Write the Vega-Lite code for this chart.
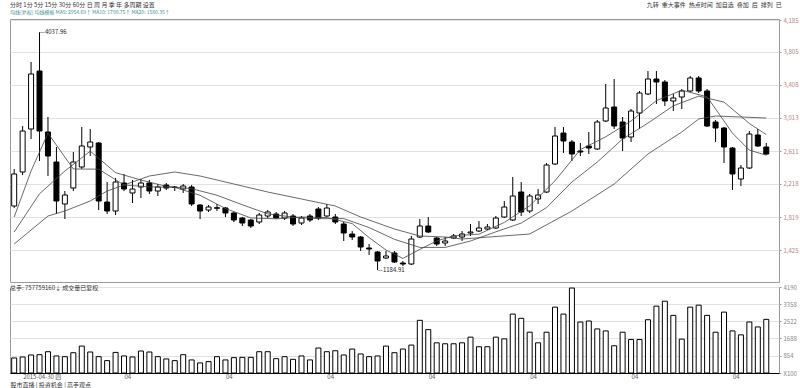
{
"$schema": "https://vega.github.io/schema/vega-lite/v6.json",
"padding": {"left": 9, "top": 1, "right": 0, "bottom": 0},
"background": "white",
"config": {"font": "Noto Sans CJK SC", "view": {"stroke": "#999", "strokeWidth": 1}, "axis": {"labelOverlap": false}, "axisY": {"labelOverlap": false}},
"title": {"text": "分时  1分  5分  15分  30分  60分  日  周  月  季  年  多周期  设置　　　　　　　　　　　　　　　　　　　　　　　　　　　　　　　　　　　　　　　　　　　　　　　　　　　　　　　　　　　　　　　　　　　　　　　　　　　　　　　　　　九转\u2002重大事件\u2002热点时间\u2002加自选\u2002叠加\u2002后\u2002排列\u2002已", "subtitle": "均线(复权)  均线模板  MA5: 2954.69↑  MA10: 1790.75↑  MA20: 1580.35↑", "anchor": "start", "frame": "group", "fontSize": 6, "fontWeight": "normal", "color": "#333", "subtitleFontSize": 5, "subtitleColor": "#3a8f95", "subtitlePadding": 2, "offset": 2},
"spacing": 0,
"datasets": {
"k": [
{"m":"2015-03","o":1953,"h":2397,"l":1930,"c":2337,"vol":735},
{"m":"2015-04","o":2361,"h":2913,"l":2325,"c":2853,"vol":783},
{"m":"2015-05","o":2877,"h":3681,"l":2757,"c":3537,"vol":880},
{"m":"2015-06","o":3573,"h":4037.96,"l":2493,"c":2853,"vol":895},
{"m":"2015-07","o":2841,"h":3021,"l":2313,"c":2553,"vol":1040},
{"m":"2015-08","o":2481,"h":2661,"l":1857,"c":2013,"vol":832},
{"m":"2015-09","o":1977,"h":2133,"l":1797,"c":2085,"vol":798},
{"m":"2015-10","o":2169,"h":2601,"l":2133,"c":2481,"vol":991},
{"m":"2015-11","o":2421,"h":2901,"l":2397,"c":2673,"vol":1315},
{"m":"2015-12","o":2661,"h":2877,"l":2553,"c":2721,"vol":1025},
{"m":"2016-01","o":2709,"h":2720,"l":1905,"c":2013,"vol":798},
{"m":"2016-02","o":2001,"h":2241,"l":1857,"c":1893,"vol":605},
{"m":"2016-03","o":1893,"h":2289,"l":1845,"c":2241,"vol":1006},
{"m":"2016-04","o":2229,"h":2337,"l":2133,"c":2157,"vol":832},
{"m":"2016-05","o":2109,"h":2265,"l":1989,"c":2157,"vol":783},
{"m":"2016-06","o":2181,"h":2277,"l":2049,"c":2229,"vol":1074},
{"m":"2016-07","o":2229,"h":2265,"l":2097,"c":2133,"vol":1025},
{"m":"2016-08","o":2133,"h":2217,"l":2073,"c":2181,"vol":798},
{"m":"2016-09","o":2205,"h":2229,"l":2145,"c":2169,"vol":687},
{"m":"2016-10","o":2181,"h":2193,"l":2133,"c":2175,"vol":605},
{"m":"2016-11","o":2157,"h":2217,"l":2109,"c":2193,"vol":895},
{"m":"2016-12","o":2181,"h":2205,"l":1953,"c":1977,"vol":638},
{"m":"2017-01","o":1965,"h":1977,"l":1797,"c":1893,"vol":493},
{"m":"2017-02","o":1905,"h":1965,"l":1881,"c":1941,"vol":556},
{"m":"2017-03","o":1925,"h":1977,"l":1893,"c":1933,"vol":798},
{"m":"2017-04","o":1929,"h":1941,"l":1821,"c":1869,"vol":638},
{"m":"2017-05","o":1869,"h":1881,"l":1761,"c":1785,"vol":750},
{"m":"2017-06","o":1809,"h":1821,"l":1713,"c":1749,"vol":764},
{"m":"2017-07","o":1785,"h":1797,"l":1689,"c":1713,"vol":764},
{"m":"2017-08","o":1761,"h":1869,"l":1737,"c":1845,"vol":1040},
{"m":"2017-09","o":1833,"h":1905,"l":1809,"c":1881,"vol":1040},
{"m":"2017-10","o":1857,"h":1881,"l":1797,"c":1809,"vol":701},
{"m":"2017-11","o":1809,"h":1893,"l":1785,"c":1869,"vol":798},
{"m":"2017-12","o":1833,"h":1857,"l":1713,"c":1737,"vol":667},
{"m":"2018-01","o":1749,"h":1833,"l":1725,"c":1809,"vol":832},
{"m":"2018-02","o":1833,"h":1857,"l":1761,"c":1785,"vol":638},
{"m":"2018-03","o":1917,"h":1941,"l":1785,"c":1809,"vol":1219},
{"m":"2018-04","o":1833,"h":1977,"l":1821,"c":1929,"vol":1040},
{"m":"2018-05","o":1821,"h":1857,"l":1737,"c":1761,"vol":1088},
{"m":"2018-06","o":1737,"h":1761,"l":1533,"c":1629,"vol":880},
{"m":"2018-07","o":1617,"h":1653,"l":1545,"c":1581,"vol":1170},
{"m":"2018-08","o":1581,"h":1593,"l":1413,"c":1461,"vol":929},
{"m":"2018-09","o":1449,"h":1497,"l":1365,"c":1437,"vol":798},
{"m":"2018-10","o":1401,"h":1413,"l":1184.91,"c":1293,"vol":832},
{"m":"2018-11","o":1329,"h":1413,"l":1317,"c":1353,"vol":1315},
{"m":"2018-12","o":1389,"h":1413,"l":1269,"c":1281,"vol":991},
{"m":"2019-01","o":1269,"h":1293,"l":1233,"c":1257,"vol":1170},
{"m":"2019-02","o":1257,"h":1593,"l":1245,"c":1557,"vol":1364},
{"m":"2019-03","o":1581,"h":1797,"l":1569,"c":1713,"vol":2573},
{"m":"2019-04","o":1713,"h":1821,"l":1629,"c":1641,"vol":2118},
{"m":"2019-05","o":1569,"h":1581,"l":1473,"c":1497,"vol":1475},
{"m":"2019-06","o":1509,"h":1581,"l":1473,"c":1533,"vol":1427},
{"m":"2019-07","o":1569,"h":1617,"l":1557,"c":1593,"vol":1427},
{"m":"2019-08","o":1581,"h":1653,"l":1533,"c":1617,"vol":1475},
{"m":"2019-09","o":1629,"h":1737,"l":1593,"c":1641,"vol":1751},
{"m":"2019-10","o":1653,"h":1773,"l":1641,"c":1689,"vol":1282},
{"m":"2019-11","o":1677,"h":1737,"l":1665,"c":1701,"vol":1282},
{"m":"2019-12","o":1689,"h":1833,"l":1677,"c":1809,"vol":1751},
{"m":"2020-01","o":1821,"h":2013,"l":1809,"c":1941,"vol":1668},
{"m":"2020-02","o":1785,"h":2301,"l":1773,"c":2073,"vol":2877},
{"m":"2020-03","o":2121,"h":2241,"l":1833,"c":1881,"vol":2669},
{"m":"2020-04","o":1893,"h":2097,"l":1869,"c":2073,"vol":1992},
{"m":"2020-05","o":2037,"h":2157,"l":1977,"c":2085,"vol":1475},
{"m":"2020-06","o":2121,"h":2469,"l":2109,"c":2445,"vol":1992},
{"m":"2020-07","o":2457,"h":2901,"l":2445,"c":2793,"vol":3216},
{"m":"2020-08","o":2829,"h":2901,"l":2589,"c":2733,"vol":2877},
{"m":"2020-09","o":2721,"h":2745,"l":2493,"c":2577,"vol":4149},
{"m":"2020-10","o":2613,"h":2709,"l":2553,"c":2601,"vol":2491},
{"m":"2020-11","o":2673,"h":2841,"l":2577,"c":2649,"vol":2539},
{"m":"2020-12","o":2637,"h":2985,"l":2625,"c":2961,"vol":2152},
{"m":"2021-01","o":2973,"h":3417,"l":2961,"c":3129,"vol":2055},
{"m":"2021-02","o":3141,"h":3477,"l":2877,"c":2913,"vol":1330},
{"m":"2021-03","o":2961,"h":3021,"l":2613,"c":2769,"vol":1992},
{"m":"2021-04","o":2781,"h":3117,"l":2721,"c":3093,"vol":1635},
{"m":"2021-05","o":3069,"h":3333,"l":2877,"c":3309,"vol":1635},
{"m":"2021-06","o":3297,"h":3573,"l":3285,"c":3477,"vol":2602},
{"m":"2021-07","o":3477,"h":3573,"l":3177,"c":3441,"vol":3264},
{"m":"2021-08","o":3441,"h":3465,"l":3153,"c":3213,"vol":3506},
{"m":"2021-09","o":3213,"h":3297,"l":3093,"c":3249,"vol":2815},
{"m":"2021-10","o":3261,"h":3357,"l":3117,"c":3333,"vol":1654},
{"m":"2021-11","o":3333,"h":3513,"l":3321,"c":3489,"vol":3216},
{"m":"2021-12","o":3489,"h":3513,"l":3309,"c":3333,"vol":3313},
{"m":"2022-01","o":3333,"h":3357,"l":2901,"c":2913,"vol":2815},
{"m":"2022-02","o":2961,"h":2985,"l":2721,"c":2889,"vol":1992},
{"m":"2022-03","o":2889,"h":2901,"l":2469,"c":2661,"vol":2974},
{"m":"2022-04","o":2649,"h":2661,"l":2145,"c":2337,"vol":2055},
{"m":"2022-05","o":2277,"h":2445,"l":2193,"c":2409,"vol":1862},
{"m":"2022-06","o":2409,"h":2853,"l":2397,"c":2817,"vol":2491},
{"m":"2022-07","o":2805,"h":2877,"l":2661,"c":2673,"vol":2249},
{"m":"2022-08","o":2661,"h":2709,"l":2565,"c":2577,"vol":2621}
],
"ma": [
{"m":"2015-03","s":"MA5","v":1821},{"m":"2015-05","s":"MA5","v":2373},{"m":"2015-07","s":"MA5","v":2827},{"m":"2015-10","s":"MA5","v":2397},{"m":"2016-01","s":"MA5","v":2395},{"m":"2016-04","s":"MA5","v":2205},{"m":"2016-07","s":"MA5","v":2183},{"m":"2016-10","s":"MA5","v":2177},{"m":"2017-01","s":"MA5","v":2081},{"m":"2017-04","s":"MA5","v":1923},{"m":"2017-07","s":"MA5","v":1810},{"m":"2017-10","s":"MA5","v":1799},{"m":"2018-01","s":"MA5","v":1821},{"m":"2018-04","s":"MA5","v":1814},{"m":"2018-07","s":"MA5","v":1742},{"m":"2018-09","s":"MA5","v":1574},{"m":"2018-11","s":"MA5","v":1425},{"m":"2019-01","s":"MA5","v":1324},{"m":"2019-03","s":"MA5","v":1432},{"m":"2019-05","s":"MA5","v":1533},{"m":"2019-07","s":"MA5","v":1595},{"m":"2019-10","s":"MA5","v":1615},{"m":"2020-01","s":"MA5","v":1756},{"m":"2020-04","s":"MA5","v":1955},{"m":"2020-07","s":"MA5","v":2255},{"m":"2020-10","s":"MA5","v":2630},{"m":"2021-01","s":"MA5","v":2783},{"m":"2021-04","s":"MA5","v":2973},{"m":"2021-07","s":"MA5","v":3218},{"m":"2021-10","s":"MA5","v":3343},{"m":"2022-01","s":"MA5","v":3263},{"m":"2022-04","s":"MA5","v":2827},{"m":"2022-06","s":"MA5","v":2623},{"m":"2022-08","s":"MA5","v":2563},
{"m":"2015-03","s":"MA10","v":1641},{"m":"2015-06","s":"MA10","v":2100},{"m":"2015-09","s":"MA10","v":2373},{"m":"2015-12","s":"MA10","v":2611},{"m":"2016-03","s":"MA10","v":2353},{"m":"2016-06","s":"MA10","v":2265},{"m":"2016-09","s":"MA10","v":2189},{"m":"2016-12","s":"MA10","v":2161},{"m":"2017-03","s":"MA10","v":2082},{"m":"2017-06","s":"MA10","v":1968},{"m":"2017-09","s":"MA10","v":1859},{"m":"2017-12","s":"MA10","v":1819},{"m":"2018-03","s":"MA10","v":1801},{"m":"2018-06","s":"MA10","v":1802},{"m":"2018-09","s":"MA10","v":1694},{"m":"2018-12","s":"MA10","v":1553},{"m":"2019-03","s":"MA10","v":1456},{"m":"2019-06","s":"MA10","v":1456},{"m":"2019-09","s":"MA10","v":1533},{"m":"2019-12","s":"MA10","v":1643},{"m":"2020-03","s":"MA10","v":1748},{"m":"2020-06","s":"MA10","v":1934},{"m":"2020-09","s":"MA10","v":2241},{"m":"2020-12","s":"MA10","v":2480},{"m":"2021-03","s":"MA10","v":2757},{"m":"2021-06","s":"MA10","v":2948},{"m":"2021-09","s":"MA10","v":3155},{"m":"2021-12","s":"MA10","v":3271},{"m":"2022-03","s":"MA10","v":3200},{"m":"2022-06","s":"MA10","v":2943},{"m":"2022-08","s":"MA10","v":2810},
{"m":"2015-03","s":"MA20","v":1497},{"m":"2015-07","s":"MA20","v":1833},{"m":"2015-09","s":"MA20","v":1893},{"m":"2015-12","s":"MA20","v":2013},{"m":"2016-02","s":"MA20","v":2133},{"m":"2016-05","s":"MA20","v":2241},{"m":"2016-07","s":"MA20","v":2313},{"m":"2016-10","s":"MA20","v":2361},{"m":"2017-01","s":"MA20","v":2313},{"m":"2017-05","s":"MA20","v":2217},{"m":"2017-09","s":"MA20","v":2121},{"m":"2018-01","s":"MA20","v":2037},{"m":"2018-05","s":"MA20","v":1953},{"m":"2018-08","s":"MA20","v":1821},{"m":"2018-12","s":"MA20","v":1677},{"m":"2019-03","s":"MA20","v":1593},{"m":"2019-06","s":"MA20","v":1581},{"m":"2019-08","s":"MA20","v":1557},{"m":"2020-04","s":"MA20","v":1617},{"m":"2020-09","s":"MA20","v":1893},{"m":"2021-02","s":"MA20","v":2217},{"m":"2021-06","s":"MA20","v":2577},{"m":"2021-10","s":"MA20","v":2841},{"m":"2021-12","s":"MA20","v":2997},{"m":"2022-02","s":"MA20","v":3033},{"m":"2022-08","s":"MA20","v":3009}
],
"ann": [
{"m":"2015-06","v":4037.96,"t":"—4037.96"},
{"m":"2018-10","v":1184.91,"t":"—1184.91"}
]
},
"vconcat": [
{
"width": 769, "height": 263,
"layer": [
{"data": {"name": "k"}, "mark": {"type": "rule", "color": "black", "strokeWidth": 1},
 "encoding": {
  "x": {"field": "m", "type": "ordinal", "scale": {"type": "point", "padding": 1, "align": 0.247}, "axis": null},
  "y": {"field": "l", "type": "quantitative", "scale": {"domain": [1041, 4197], "nice": false, "zero": false}, "title": null,
        "axis": {"orient": "right", "values": [1425, 1819, 2218, 2611, 3013, 3408, 3805, 4185], "labelOverlap": false, "grid": true, "gridColor": "#e2e2e2", "labelColor": "#b08585", "labelFontSize": 6, "tickSize": 2, "tickColor": "#999", "domain": false, "labelPadding": 2}},
  "y2": {"field": "h"}}},
{"data": {"name": "k"}, "mark": {"type": "bar", "size": 5, "stroke": "black", "strokeWidth": 1},
 "encoding": {
  "x": {"field": "m", "type": "ordinal"},
  "y": {"field": "o", "type": "quantitative", "title": null, "axis": {"orient": "right", "values": [1425, 1819, 2218, 2611, 3013, 3408, 3805, 4185], "labelOverlap": false}},
  "y2": {"field": "c"},
  "fill": {"condition": {"test": "datum.c >= datum.o", "value": "white"}, "value": "black"}}},
{"data": {"name": "ma"}, "mark": {"type": "line", "color": "#444", "strokeWidth": 0.8},
 "encoding": {
  "x": {"field": "m", "type": "ordinal"},
  "y": {"field": "v", "type": "quantitative", "title": null, "axis": {"orient": "right", "values": [1425, 1819, 2218, 2611, 3013, 3408, 3805, 4185], "labelOverlap": false}},
  "detail": {"field": "s"}}},
{"data": {"name": "ann"}, "mark": {"type": "text", "align": "left", "baseline": "middle", "dx": 0, "fontSize": 6, "color": "#222"},
 "encoding": {
  "x": {"field": "m", "type": "ordinal"},
  "y": {"field": "v", "type": "quantitative", "title": null, "axis": {"orient": "right", "values": [1425, 1819, 2218, 2611, 3013, 3408, 3805, 4185], "labelOverlap": false}},
  "text": {"field": "t"}}}
]
},
{
"width": 769, "height": 86,
"title": {"text": "总手: 757759160↓  成交量已复权", "anchor": "start", "fontSize": 6, "fontWeight": "normal", "color": "#333", "offset": -7},
"data": {"name": "k"},
"mark": {"type": "bar", "size": 5, "fill": "white", "stroke": "black", "strokeWidth": 1},
"encoding": {
 "x": {"field": "m", "type": "ordinal", "scale": {"type": "point", "padding": 1, "align": 0.247},
       "axis": {"values": ["2015-04","2016-04","2017-04","2018-04","2019-04","2020-04","2021-04","2022-04"], "labelExpr": "datum.value == '2015-04' ? '2015-04-30 四' : '04'", "labelAlign": "left", "labelAngle": 0, "labelFontSize": 6, "labelColor": "#555", "ticks": false, "domain": true, "domainColor": "#000", "labelPadding": 0,
                "title": "股市直播 | 投资机会 | 高手观点", "titleAnchor": "start", "titleFontSize": 6, "titleFontWeight": "normal", "titleColor": "#333", "titlePadding": 2}},
 "y": {"field": "vol", "type": "quantitative", "scale": {"domain": [0, 4200], "nice": false}, "title": null,
       "axis": {"orient": "right", "values": [0, 854, 1688, 2522, 3358, 4190], "labelOverlap": false, "labelExpr": "datum.value == 0 ? 'X100' : datum.label", "grid": true, "gridColor": "#e2e2e2", "labelColor": "#888", "labelFontSize": 6, "tickSize": 2, "tickColor": "#999", "domain": false, "labelPadding": 2, "format": "d"}}
}
}
]
}
